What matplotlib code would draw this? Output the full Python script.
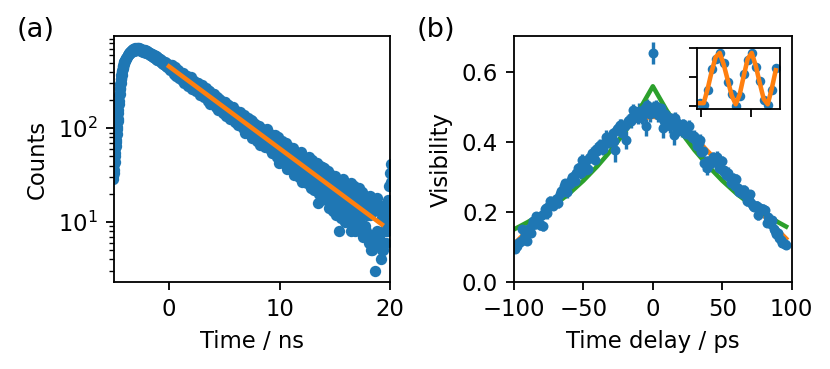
"""Two-panel figure: (a) decay histogram on log scale, (b) visibility vs delay with inset."""

import matplotlib

matplotlib.use("Agg")
import matplotlib.pyplot as plt
import numpy as np

DPI = 163.4
W_PX, H_PX = 830, 369

BLUE = "#1f77b4"
ORANGE = "#ff7f0e"
GREEN = "#2ca02c"

# ---- (a) time-resolved counts -------------------------------------------
# rising edge of the pulse, fine bins
RISE_T0, RISE_DT = -5.05, 0.025
rise_counts = [
    29, 31, 33, 36, 42, 44, 51, 54, 61, 64, 72, 75, 84, 87, 97, 103, 119, 126, 144, 155,
    182, 195, 226, 233, 262, 268, 296, 302, 333, 337, 368, 372, 404, 405, 441, 436, 466, 460,
    492, 484, 510, 502,
]

# peak region
PEAK_T0, PEAK_DT = -4.0, 0.05
peak_counts = [
    528, 522, 561, 548, 571, 604, 596, 631, 618, 650, 637, 668, 649, 681, 660, 702, 671, 695,
    712, 678, 704, 683, 722, 690, 711, 676, 715, 689, 701, 668, 706, 672, 690, 657, 684, 652,
    678, 645, 670, 636, 661, 628, 652, 620, 641, 609, 633, 598, 624, 590, 611, 579, 603, 568,
    592, 557, 583, 548, 571, 539, 562, 528, 553, 519, 541, 509, 532, 498, 522, 489, 512, 480,
    503, 470, 494, 462, 484, 452, 473, 445,
]

# exponential tail, bins at 0.0, 0.1, ...
DECAY_T0, DECAY_DT = 0.0, 0.1
decay_counts = [
    472, 423, 444, 419, 450, 394, 406, 416, 356, 392,
    365, 386, 333, 360, 348, 322, 357, 320, 334, 283,
    325, 289, 293, 263, 293, 304, 253, 270, 254, 269,
    235, 250, 258, 219, 230, 218, 248, 190, 221, 211,
    211, 182, 208, 193, 179, 203, 177, 163, 188, 165,
    154, 171, 162, 175, 147, 134, 159, 145, 138, 153,
    139, 124, 149, 124, 135, 107, 122, 129, 104, 120,
    105, 121, 94, 109, 103, 118, 91, 95, 104, 78,
    100, 86, 92, 73, 95, 76, 83, 70, 91, 76,
    73, 80, 58, 74, 80, 60, 65, 74, 54, 65,
    66, 51, 60, 69, 52, 55, 43, 59, 55, 45,
    41, 51, 56, 43, 46, 33, 54, 41, 48, 35,
    42, 48, 34, 31, 43, 39, 34, 46, 25, 38,
    29, 38, 32, 22, 38, 29, 33, 23, 39, 25,
    33, 22, 28, 19, 29, 32, 21, 23, 17, 27,
    20, 28, 15, 25, 21, 16, 27, 18, 21, 13,
    22, 15, 23, 12, 17, 21, 10, 18, 14, 22,
    11, 16, 19, 8, 15, 12, 19, 9, 15, 12,
    15, 7, 12, 17, 5, 13, 3, 14, 8, 15,
    7, 14, 4, 11, 12, 8,
]

# same tail, interleaved bins at 0.05, 0.15, ...
DECAY2_T0, DECAY2_DT = 0.05, 0.1
decay2_counts = [
    413, 472, 477, 403, 380, 448, 356, 410, 416, 346,
    349, 329, 391, 306, 357, 364, 299, 285, 342, 348,
    265, 311, 317, 259, 247, 298, 305, 244, 227, 286,
    224, 213, 260, 266, 211, 196, 249, 182, 224, 230,
    232, 183, 169, 217, 156, 195, 201, 154, 146, 189,
    190, 135, 170, 175, 133, 125, 165, 170, 126, 116,
    153, 115, 109, 144, 150, 110, 100, 139, 90, 123,
    125, 130, 95, 86, 122, 78, 107, 112, 79, 73,
    74, 106, 67, 93, 98, 67, 63, 92, 97, 65,
    81, 86, 59, 54, 81, 85, 56, 49, 80, 43,
    46, 70, 74, 49, 42, 70, 37, 59, 63, 39,
    42, 36, 61, 32, 52, 55, 34, 30, 52, 56,
    27, 45, 49, 29, 26, 46, 49, 28, 23, 46,
    25, 22, 40, 43, 24, 20, 40, 17, 33, 36,
    38, 21, 17, 35, 14, 29, 32, 16, 13, 30,
    31, 12, 25, 28, 14, 11, 26, 29, 14, 10,
    25, 12, 10, 23, 26, 12, 9, 24, 8, 19,
    20, 23, 10, 8, 21, 7, 16, 19, 8, 7,
    6, 19, 5, 14, 17, 6, 7, 16, 18, 6,
    13, 15, 5, 5, 14,
]

# start of the next pulse at the right edge
TAIL_T0, TAIL_DT = 19.6, 0.05
tail_counts = [9, 6, 13, 8, 17, 11, 24, 16, 33, 27, 42]

stray_t = [13.45, 15.4, 16.5]
stray_counts = [16, 8, 8]

fit_a_t = [0.0, 19.25]
fit_a_counts = [456, 9.45]

# ---- (b) visibility vs time delay -------------------------------------
delay_odd = [
    -99, -97, -95, -93, -91, -89, -87, -85, -83, -81,
    -79, -77, -75, -73, -71, -69, -67, -65, -63, -61,
    -59, -57, -55, -53, -51, -49, -47, -45, -43, -41,
    -39, -37, -35, -33, -31, -29, -27, -25, -23, -21,
    -19, -17, -15, -13, -11, -9, -7, -5, -3, -1,
    1, 3, 5, 7, 9, 11, 13, 15, 17, 19,
    21, 23, 25, 27, 29, 31, 33, 35, 37, 39,
    41, 43, 45, 47, 49, 51, 53, 55, 57, 59,
    61, 63, 65, 67, 69, 71, 73, 75, 77, 79,
    81, 83, 85, 87, 89, 91, 93, 95,
]
vis_odd = [
    .095, .110, .118, .125, .118, .148, .162, .166, .172, .162,
    .160, .212, .218, .228, .225, .238, .250, .262, .282, .276,
    .292, .298, .310, .324, .349, .338, .322, .355, .362, .378,
    .388, .382, .394, .405, .398, .425, .375, .440, .448, .445,
    .405, .462, .470, .478, .468, .488, .482, .445, .495, .490,
    .498, .485, .492, .440, .478, .470, .458, .418, .455, .448,
    .430, .440, .425, .418, .410, .402, .395, .372, .338, .325,
    .335, .355, .345, .340, .322, .318, .305, .298, .290, .275,
    .268, .260, .250, .245, .235, .225, .215, .218, .210, .208,
    .205, .185, .165, .150, .138, .125, .112, .108,
]
err_odd = [
    .012, .014, .012, .014, .013, .014, .012, .016, .013, .014,
    .014, .013, .016, .014, .013, .014, .016, .014, .013, .016,
    .014, .016, .013, .014, .017, .014, .020, .016, .014, .017,
    .016, .018, .014, .017, .016, .014, .032, .016, .017, .016,
    .026, .017, .016, .018, .017, .016, .017, .028, .018, .017,
    .018, .017, .019, .030, .017, .018, .017, .026, .017, .018,
    .016, .017, .016, .014, .016, .014, .017, .019, .021, .020,
    .018, .016, .017, .014, .016, .014, .014, .013, .014, .013,
    .014, .013, .014, .013, .014, .013, .014, .013, .012, .013,
    .013, .012, .013, .012, .011, .012, .011, .011,
]

delay_even = [
    -98, -96, -94, -92, -90, -88, -86, -84, -82, -80,
    -78, -76, -74, -72, -70, -68, -66, -64, -62, -60,
    -58, -56, -54, -52, -50, -48, -46, -44, -42, -40,
    -38, -36, -34, -32, -30, -28, -26, -24, -22, -20,
    -18, -16, -14, -12, -10, -8, -6, -4, -2, 0,
    2, 4, 6, 8, 10, 12, 14, 16, 18, 20,
    22, 24, 26, 28, 30, 32, 34, 36, 38, 40,
    42, 44, 46, 48, 50, 52, 54, 56, 58, 60,
    62, 64, 66, 68, 70, 72, 74, 76, 78, 80,
    82, 84, 86, 88, 90, 92, 94, 96,
]
vis_even = [
    .104, .114, .150, .134, .152, .140, .173, .187, .169, .191,
    .209, .196, .232, .217, .236, .225, .259, .274, .256, .280,
    .300, .287, .325, .310, .330, .320, .354, .367, .349, .373,
    .391, .378, .414, .398, .416, .403, .435, .448, .426, .445,
    .460, .458, .490, .474, .487, .470, .497, .505, .478, .493,
    .502, .475, .496, .460, .467, .444, .466, .468, .436, .445,
    .450, .423, .444, .413, .416, .388, .405, .373, .339, .341,
    .349, .354, .357, .326, .344, .310, .311, .281, .297, .293,
    .256, .261, .262, .231, .250, .217, .218, .190, .206, .204,
    .169, .174, .176, .146, .140, .120, .110, .106,
]
err_even = [
    .013, .012, .014, .013, .015, .013, .014, .012, .015, .014,
    .013, .015, .014, .013, .016, .014, .015, .013, .016, .015,
    .014, .016, .015, .017, .014, .016, .015, .018, .016, .015,
    .017, .016, .018, .017, .016, .018, .017, .016, .019, .018,
    .017, .020, .018, .017, .024, .019, .018, .017, .022, .019,
    .018, .020, .017, .024, .018, .019, .017, .018, .020, .017,
    .016, .018, .017, .016, .017, .016, .018, .017, .019, .018,
    .016, .015, .017, .016, .015, .014, .016, .015, .014, .015,
    .014, .013, .015, .014, .013, .014, .013, .014, .012, .013,
    .013, .012, .012, .013, .011, .012, .011, .011,
]

outlier_delay = [0]
outlier_vis = [0.652]
outlier_err = [0.031]

orange_delay = [
    -100, -95, -90, -85, -80, -75, -70, -65, -60, -55, -50, -45, -40, -35, -30, -25, -20,
    -15, -10, -5, 0, 5, 10, 15, 20, 25, 30, 35, 40, 45, 50, 55, 60, 65, 70, 75, 80, 85,
    90, 95, 96,
]
orange_vis = [
    .108, .128, .148, .168, .189, .210, .232, .254, .278, .302, .326, .350, .371, .392,
    .412, .430, .443, .455, .463, .469, .471, .469, .463, .455, .443, .430, .412, .392,
    .371, .350, .326, .302, .278, .254, .232, .210, .189, .168, .148, .128, .124,
]

green_delay = [-100, -90, -80, -70, -60, -50, -40, -30, -20, -10, 0,
               10, 20, 30, 40, 50, 60, 70, 80, 90, 96]
green_vis = [.150, .171, .195, .222, .253, .289, .330, .376, .429, .489, .558,
             .489, .429, .376, .330, .289, .253, .222, .195, .171, .158]

# inset: interference fringes
inset_x = [-1, 3, 7, 11, 15, 19, 23, 27, 31, 35, 39, 43, 47, 51, 55, 59, 63, 67, 71, 75]
inset_data = [0.06, 0.02, 0.28, 0.64, 0.82, 0.91, 0.74, 0.41, 0.20, 0.00,
              0.17, 0.55, 0.80, 0.92, 0.68, 0.44, 0.10, 0.01, 0.28, 0.66]
inset_fit = [0.05, 0.05, 0.30, 0.60, 0.85, 0.92, 0.72, 0.45, 0.18, 0.03,
             0.20, 0.52, 0.82, 0.92, 0.70, 0.40, 0.12, 0.03, 0.30, 0.62]


def bins(t0, dt, counts):
    return t0 + dt * np.arange(len(counts))


def draw_decay(ax):
    t = np.concatenate([
        bins(RISE_T0, RISE_DT, rise_counts),
        bins(PEAK_T0, PEAK_DT, peak_counts),
        bins(DECAY_T0, DECAY_DT, decay_counts),
        bins(DECAY2_T0, DECAY2_DT, decay2_counts),
        bins(TAIL_T0, TAIL_DT, tail_counts),
        stray_t,
    ])
    c = np.concatenate([rise_counts, peak_counts, decay_counts, decay2_counts,
                        tail_counts, stray_counts])
    ax.plot(t, c, "o", color=BLUE, ms=5.0, mew=0)
    ax.plot(fit_a_t, fit_a_counts, "-", color=ORANGE, lw=2.0)
    ax.set_yscale("log")
    ax.set_xlim(-5, 20)
    ax.set_ylim(2.3, 950)
    ax.set_xticks([0, 10, 20])
    ax.set_xlabel("Time / ns")
    ax.set_ylabel("Counts")


def draw_visibility(ax):
    style = dict(fmt="o", color=BLUE, ms=4.4, mew=0, elinewidth=1.5, capsize=0)
    ax.errorbar(delay_odd, vis_odd, yerr=err_odd, **style)
    ax.errorbar(delay_even, vis_even, yerr=err_even, **style)
    ax.errorbar(outlier_delay, outlier_vis, yerr=outlier_err, **style)
    ax.plot(orange_delay, orange_vis, "-", color=ORANGE, lw=2.0)
    ax.plot(green_delay, green_vis, "-", color=GREEN, lw=2.0)
    ax.set_xlim(-100, 100)
    ax.set_ylim(0, 0.7)
    ax.set_xticks([-100, -50, 0, 50, 100])
    ax.set_yticks([0.0, 0.2, 0.4, 0.6])
    ax.set_xlabel("Time delay / ps")
    ax.set_ylabel("Visibility")


def draw_inset(ax):
    ax.plot(inset_x, inset_data, "o", color=BLUE, ms=4.2, mew=0)
    ax.plot(inset_x, inset_fit, "-", color=ORANGE, lw=2.0)
    ax.set_xlim(-3.4, 79.3)
    ax.set_ylim(-0.052, 1.0)
    ax.set_xticks([0, 50])
    ax.set_yticks([0, 0.5, 1.0])
    ax.set_xticklabels([])
    ax.set_yticklabels([])


def main():
    fig = plt.figure(figsize=((W_PX + 0.01) / DPI, (H_PX + 0.01) / DPI), dpi=DPI)

    ax_a = fig.add_axes([0.137, 0.2358, 0.333, 0.6653])
    ax_b = fig.add_axes([0.6193, 0.2358, 0.3345, 0.6653])
    ax_in = fig.add_axes([0.8401, 0.7046, 0.0997, 0.1645])

    draw_decay(ax_a)
    draw_visibility(ax_b)
    draw_inset(ax_in)

    fig.text(17 / W_PX, 0.955, "(a)", va="top", ha="left", fontsize=12)
    fig.text(417 / W_PX, 0.955, "(b)", va="top", ha="left", fontsize=12)

    fig.savefig("out.png", dpi=DPI)
    plt.close(fig)


if __name__ == "__main__":
    main()
